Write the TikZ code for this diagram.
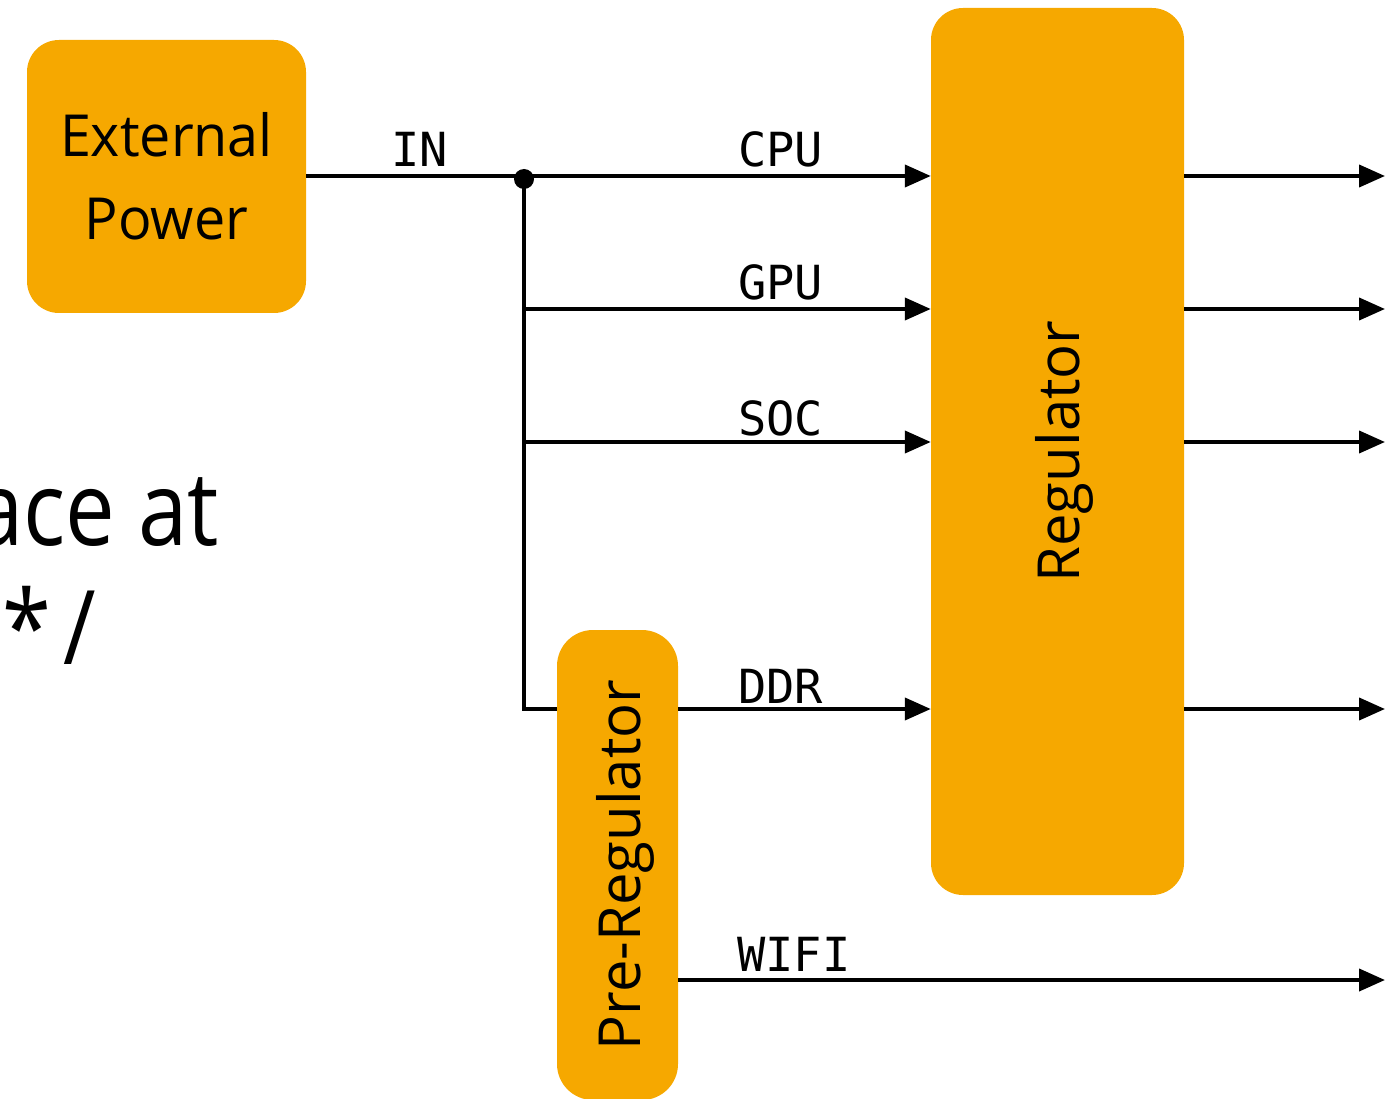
\documentclass[tikz,border=0pt]{standalone}
\usepackage{fontspec}
\setmainfont{Open Sans}
\newfontfamily\labfont{DejaVu Sans Mono}
\usetikzlibrary{arrows.meta,calc}
\definecolor{boxorange}{RGB}{246,168,0}
\tikzset{
  blk/.style={fill=boxorange,draw=none,rounded corners=32pt,inner sep=0pt},
  blktext/.style={font=\fontsize{58}{83}\selectfont,align=center,inner sep=0pt},
  wire/.style={line width=4pt},
  arr/.style={line width=4pt,-{Triangle[length=26pt,width=22pt]}},
  lab/.style={font=\labfont\fontsize{47}{47}\selectfont,anchor=base west,inner sep=0pt},
  bigtext/.style={font=\fontsize{103}{103}\selectfont,inner sep=0pt,xscale=0.86}
}
\begin{document}
\begin{tikzpicture}[x=1pt,y=-1pt]
\useasboundingbox (0,0) rectangle (1390,1099);
% background text
\node[bigtext,anchor=base east] (bg1) at (219,545) {ace at};
\node[bigtext,anchor=base east] (bg2) at (96,664) {*\hspace{14pt}/};
% blocks
\node[blk,minimum width=279pt,minimum height=273pt] (ext) at (166.5,176.5) {};
\node[blktext,xscale=0.96] (extt) at (ext.center) {External\\Power};
\node[blk,minimum width=253pt,minimum height=887pt] (reg) at (1057.5,451.5) {};
\node[blktext,rotate=90] (regt) at ($(reg.center)+(7,0)$) {Regulator};
\node[blk,minimum width=121pt,minimum height=470pt,rounded corners=36pt] (pre) at (617.5,865) {};
\node[blktext,rotate=90] (pret) at ($(pre.center)+(8,0)$) {Pre-Regulator};
% coordinates
\coordinate (j) at (524,176);
\coordinate (g) at (524,309);
\coordinate (s) at (524,442);
\coordinate (d) at (524,709);
\coordinate (o1) at (1385,176);
\coordinate (o2) at (1385,309);
\coordinate (o3) at (1385,442);
\coordinate (o4) at (1385,709);
\coordinate (o5) at (1385,980);
% wires
\draw[wire] (ext.east |- j) -- (j);
\draw[arr] (j) -- (j -| reg.west);
\draw[wire] (j) -- (d) -- (d -| pre.west);
\draw[arr] (g) -- (g -| reg.west);
\draw[arr] (s) -- (s -| reg.west);
\draw[arr] (pre.east |- d) -- (d -| reg.west);
\draw[arr] (pre.east |- o5) -- (o5);
\draw[arr] (reg.east |- o1) -- (o1);
\draw[arr] (reg.east |- o2) -- (o2);
\draw[arr] (reg.east |- o3) -- (o3);
\draw[arr] (reg.east |- o4) -- (o4);
\fill (524,179) circle (10pt);
% labels
\node[lab] (lin) at (391,167) {IN};
\node[lab] (lcpu) at (738,167) {CPU};
\node[lab] (lgpu) at (738,300) {GPU};
\node[lab] (lsoc) at (738,435) {SOC};
\node[lab] (lddr) at (738,703) {DDR};
\node[lab] (lwifi) at (737,971) {WIFI};
\end{tikzpicture}
\end{document}
